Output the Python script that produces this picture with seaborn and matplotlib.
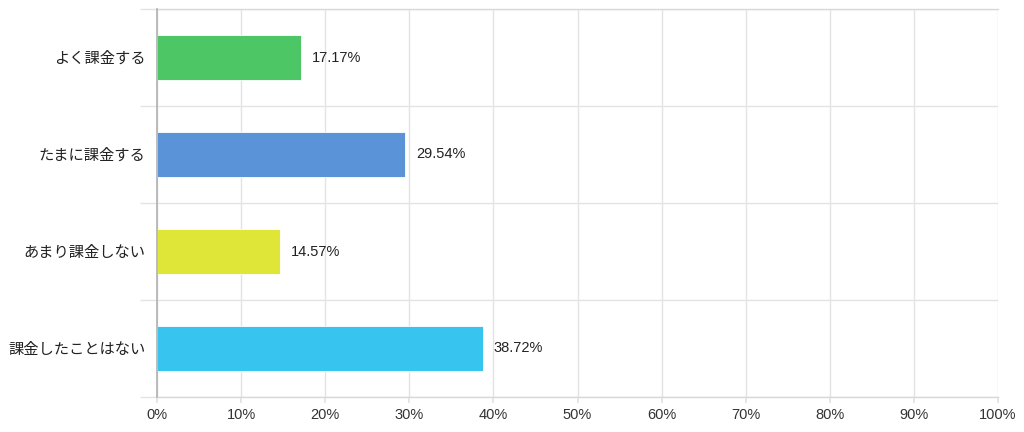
import matplotlib
matplotlib.use("Agg")
import matplotlib.pyplot as plt
import seaborn as sns
import pandas as pd
from matplotlib.ticker import FixedLocator, PercentFormatter

# data
categories = ["よく課金する", "たまに課金する", "あまり課金しない", "課金したことはない"]
values = [17.17, 29.54, 14.57, 38.72]
colors = ["#4DC666", "#5B93D9", "#E0E637", "#37C5EF"]
xticks = list(range(0, 101, 10))

sns.set_theme(style="white")
plt.rcParams["font.family"] = ["Liberation Sans", "Noto Sans CJK JP", "DejaVu Sans"]

df = pd.DataFrame({"cat": categories, "val": values})

fig = plt.figure(figsize=(10.24, 4.32), dpi=100)
ax = fig.add_axes([157 / 1024, 1 - 397 / 432, (998 - 157) / 1024, (397 - 9) / 432])

sns.barplot(data=df, x="val", y="cat", hue="cat", palette=colors, legend=False,
            width=0.46, saturation=1, edgecolor="white", linewidth=0.6, ax=ax, zorder=3)

ax.set_xlim(0, 100)
ax.set_ylim(len(categories) - 0.5, -0.5)
ax.set_xticks(xticks)
ax.xaxis.set_major_formatter(PercentFormatter(decimals=0))
ax.set_xlabel("")
ax.set_ylabel("")

# band boundaries as gridlines
ax.yaxis.set_minor_locator(FixedLocator([i + 0.5 for i in range(-1, len(categories))]))
ax.grid(axis="x", which="major", color="#e3e3e3", linewidth=1, zorder=0)
ax.grid(axis="y", which="minor", color="#e3e3e3", linewidth=1, zorder=0)
ax.tick_params(axis="y", which="major", length=0, pad=8.5, labelsize=11, labelcolor="#222222")
ax.tick_params(axis="y", which="minor", length=12, width=1, color="#e3e3e3", left=True)
ax.tick_params(axis="x", which="major", length=4, color="#e3e3e3", pad=4,
               labelsize=10.5, labelcolor="#333333", bottom=True)

for s in ["top", "bottom", "right"]:
    ax.spines[s].set_color("#d8d8d8")
    ax.spines[s].set_linewidth(1)
ax.spines["right"].set_visible(False)
ax.spines["left"].set_color("#b0b0b0")
ax.spines["left"].set_linewidth(1.2)
ax.spines["left"].set_zorder(4)

for i, v in enumerate(values):
    ax.text(v + 1.3, i, f"{v:.2f}%", va="center", ha="left", fontsize=10.5, color="#222222")

fig.savefig("out.png", dpi=100)
